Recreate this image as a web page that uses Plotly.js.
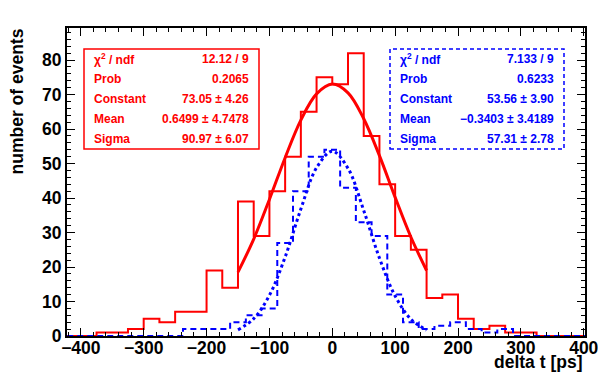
<!DOCTYPE html>
<html>
<head>
<meta charset="utf-8">
<script src="https://cdn.plot.ly/plotly-3.0.1.min.js"></script>
<style>
  html, body { margin: 0; padding: 0; background: #fff; }
  #chart { width: 598px; height: 374px; }
</style>
</head>
<body>
<div id="chart"></div>
<script>
// bin contents (25 ps bins)
const binWidth = 25;
const redFirstEdge = -425;
const redCounts = [0, 0, 1, 1, 2, 5, 4, 7, 7, 19, 14, 39, 29, 42, 52, 65, 75, 73, 82, 58,
                   44, 29, 25, 11, 12, 5, 2, 3, 1, 1, 0, 0, 0];
const blueFirstEdge = -437.5;
const blueCounts = [0, 0, 0, 0, 0, 0, 0, 0, 2, 2, 2, 4, 6, 8, 27, 42, 52, 54, 43, 33,
                    29, 12, 4, 2, 3, 4, 2, 1, 2, 0, 0, 0, 0, 0];

// gaussian fit curves
const fitX = [-150, -125, -100, -75, -50, -25, 0, 25, 50, 75, 100, 125, 150];
const redFit = [18.5, 28.1, 39.6, 51.7, 62.6, 70.2, 73.05, 70.5, 63.0, 52.3, 40.2, 28.7, 19.0];
const blueFit = [1.77, 5.03, 11.8, 22.9, 36.8, 48.8, 53.56, 48.6, 36.4, 22.6, 11.6, 4.9, 1.72];

// stat boxes
const statNames = ['\u03c7<sup>2</sup> / ndf', 'Prob', 'Constant', 'Mean', 'Sigma'];
const redStats = ['12.12 / 9', '0.2065', '73.05 \u00b1 4.26', '0.6499 \u00b1 4.7478', '90.97 \u00b1 6.07'];
const blueStats = ['7.133 / 9', '0.6233', '53.56 \u00b1 3.90', '\u22120.3403 \u00b1 3.4189', '57.31 \u00b1 2.78'];

const RED = '#ff0000';
const BLUE = '#0000ff';
const FONT = 'Liberation Sans, Arial, Helvetica, sans-serif';

// plot frame in pixels
const W = 598, H = 374;
const L = 67, R = 585, T = 28, B = 336;
const px = x => (x - L) / (R - L);
const py = y => (B - y) / (B - T);

function steps(first, counts) {
    const xs = [], ys = [];
    counts.forEach((c, i) => {
        xs.push(first + i * binWidth);
        ys.push(c);
    });
    xs.push(first + counts.length * binWidth);
    ys.push(counts[counts.length - 1]);
    return { x: xs, y: ys };
}

const redHist = steps(redFirstEdge, redCounts);
const blueHist = steps(blueFirstEdge, blueCounts);

const traces = [
    { x: redHist.x, y: redHist.y, mode: 'lines', line: { shape: 'hv', color: RED, width: 2 } },
    { x: fitX, y: redFit, mode: 'lines', line: { shape: 'spline', color: RED, width: 3 } },
    { x: blueHist.x, y: blueHist.y, mode: 'lines', line: { shape: 'hv', color: BLUE, width: 2, dash: '6px,4px' } },
    { x: fitX, y: blueFit, mode: 'lines', line: { shape: 'spline', color: BLUE, width: 3, dash: '3px,3px' } }
];

// stat box text
const rowY = [59.3, 79.3, 99.5, 119.3, 139.3];
const annotations = [];
function addStats(names, vals, color, xl, xr) {
    names.forEach((n, i) => {
        annotations.push({ xref: 'paper', yref: 'paper', x: px(xl), y: py(rowY[i]),
            xanchor: 'left', yanchor: 'middle', text: n, showarrow: false,
            font: { family: FONT, size: 12, color: color, weight: 'bold' } });
        annotations.push({ xref: 'paper', yref: 'paper', x: px(xr), y: py(rowY[i]),
            xanchor: 'right', yanchor: 'middle', text: vals[i], showarrow: false,
            font: { family: FONT, size: 12, color: color, weight: 'bold' } });
    });
}
addStats(statNames, redStats, RED, 92, 251);
addStats(statNames, blueStats, BLUE, 397.5, 556);

// axis titles, right-aligned like ROOT
annotations.push({ xref: 'paper', yref: 'paper', x: px(17), y: 1.005, xanchor: 'center', yanchor: 'top',
    textangle: -90, text: 'number of events', showarrow: false,
    font: { family: FONT, size: 17.5, color: '#000', weight: 'bold' } });
annotations.push({ xref: 'paper', yref: 'paper', x: px(584), y: py(362), xanchor: 'right', yanchor: 'middle',
    text: 'delta t [ps]', showarrow: false,
    font: { family: FONT, size: 17.5, color: '#000', weight: 'bold' } });

const shapes = [
    { type: 'rect', xref: 'paper', yref: 'paper', x0: px(84), x1: px(259), y0: py(149), y1: py(49),
      line: { color: RED, width: 1.5 }, fillcolor: 'rgba(0,0,0,0)' },
    { type: 'rect', xref: 'paper', yref: 'paper', x0: px(390), x1: px(564), y0: py(149), y1: py(49),
      line: { color: BLUE, width: 1.5, dash: '4px,3px' }, fillcolor: 'rgba(0,0,0,0)' }
];

const axisCommon = {
    showgrid: false, zeroline: false, showline: true, mirror: 'ticks',
    linecolor: '#000', linewidth: 2, ticks: 'inside', ticklen: 8, tickwidth: 1, tickcolor: '#000',
    ticklabeloverflow: 'allow',
    tickfont: { family: FONT, size: 17.5, color: '#000', weight: 'bold' }
};

const layout = {
    width: W, height: H,
    margin: { l: L, r: W - R, t: T, b: H - B },
    paper_bgcolor: '#fff', plot_bgcolor: '#fff',
    showlegend: false,
    xaxis: Object.assign({}, axisCommon, {
        range: [-422, 402], tickvals: [-400, -300, -200, -100, 0, 100, 200, 300, 400],
        ticklabelstandoff: -5,
        minor: { dtick: 20, ticks: 'inside', ticklen: 4, tickcolor: '#000', tickwidth: 1 }
    }),
    yaxis: Object.assign({}, axisCommon, {
        range: [0, 89.3], dtick: 10, tick0: 0,
        minor: { dtick: 2, ticks: 'inside', ticklen: 4, tickcolor: '#000', tickwidth: 1 }
    }),
    annotations: annotations,
    shapes: shapes
};

Plotly.newPlot('chart', traces, layout, { staticPlot: true });
</script>
</body>
</html>
